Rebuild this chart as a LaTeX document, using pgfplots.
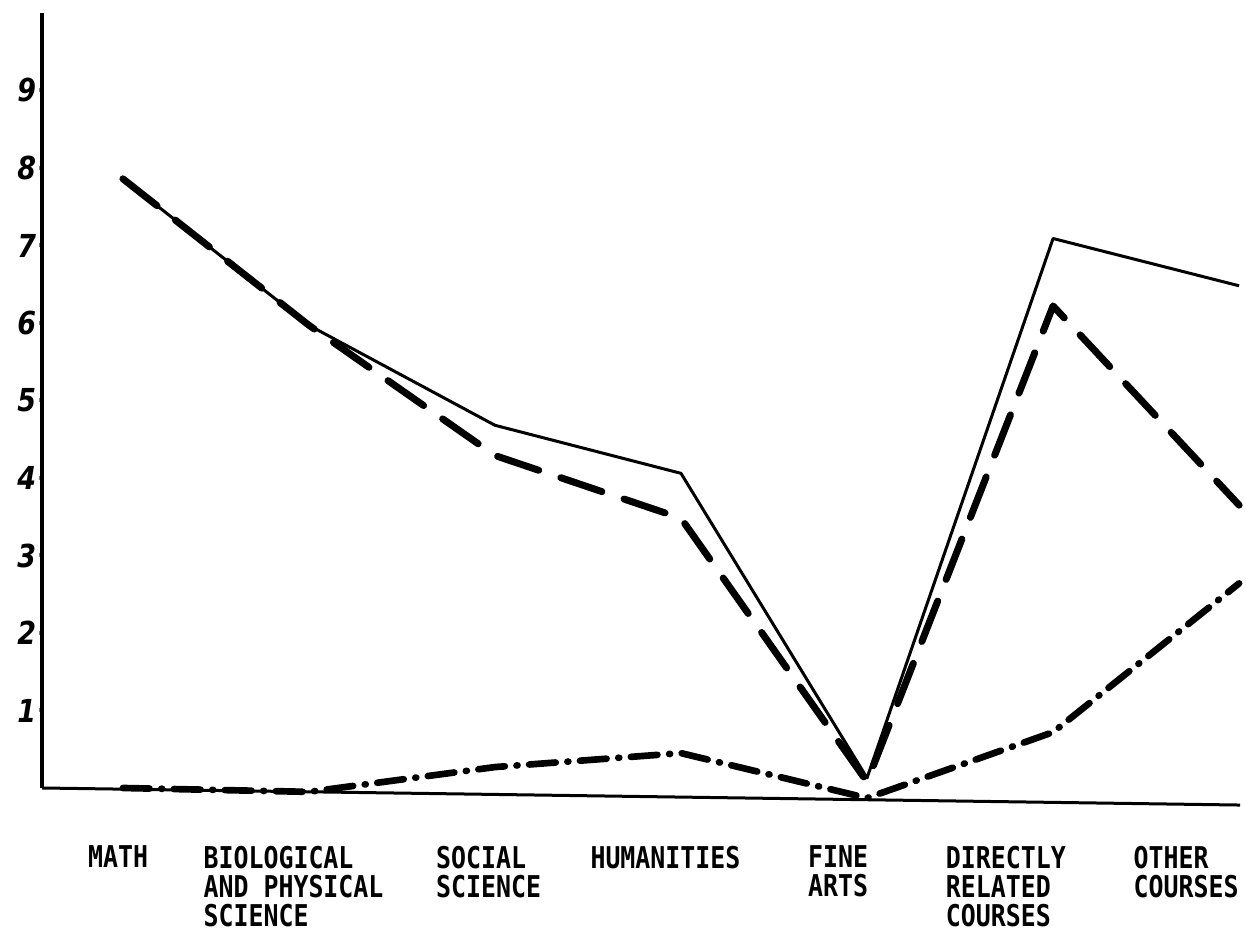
\documentclass[border=0pt]{standalone}
\usepackage{pgfplots}
\pgfplotsset{compat=1.18}
\usepackage{fontspec}
\newfontfamily\catfont[FakeStretch=0.83]{DejaVu Sans Mono}
\newfontfamily\numfont[FakeStretch=0.85]{DejaVu Sans}

% category values, 0 = MATH ... 6 = OTHER COURSES
\pgfplotstableread{
x  solid  dashed  dashdot
0  7.86   7.86    0.00
1  5.97   5.97   -0.05
2  4.68   4.29    0.27
3  4.06   3.48    0.45
4  0.13   0.08   -0.13
5  7.09   6.22    0.72
6  6.48   3.65    2.64
}\coursedata

\begin{document}
\begin{tikzpicture}
\useasboundingbox (-12.6pt,-46.2pt) rectangle (361.2pt,236.4pt);
\begin{axis}[
    scale only axis,
    width=359.4pt, height=232.5pt,
    xmin=-0.435, xmax=6.005,
    ymin=0, ymax=10,
    clip=false,
    axis y line=left,
    axis x line=none,
    axis line style={-, line width=1.2pt},
    ytick={1,...,9},
    yticklabels={1,2,3,4,5,6,7,8,9},
    yticklabel style={font=\numfont\bfseries\itshape\fontsize{9.5}{11}\selectfont, xshift=2.5pt},
    major tick length=1.5pt,
    tick align=center,
    tick style={line width=1.2pt},
]
\addplot[black, line width=0.9pt, line join=round] table[x=x, y=solid] {\coursedata};
\addplot[black, line width=2.1pt, line cap=round, line join=round,
    dash pattern=on 13pt off 7pt] table[x=x, y=dashed] {\coursedata};
\addplot[black, line width=2pt, line cap=round, line join=round,
    dash pattern=on 8pt off 3.5pt on 0.3pt off 3.5pt] table[x=x, y=dashdot] {\coursedata};
% slightly slanted base line, as drawn
\draw[line width=0.9pt] (axis cs:-0.435,0) -- (axis cs:6.005,-0.22);

\begin{scope}[every node/.style={anchor=north west, inner sep=0pt, align=left,
    font=\catfont\bfseries\fontsize{9}{8.7}\selectfont}]
\node at (axis cs:-0.19,-0.74) {MATH};
\node at (axis cs:0.43,-0.74) {BIOLOGICAL\\AND PHYSICAL\\SCIENCE};
\node at (axis cs:1.68,-0.74) {SOCIAL\\SCIENCE};
\node at (axis cs:2.51,-0.74) {HUMANITIES};
\node at (axis cs:3.68,-0.74) {FINE\\ARTS};
\node at (axis cs:4.42,-0.74) {DIRECTLY\\RELATED\\COURSES};
\node at (axis cs:5.43,-0.74) {OTHER\\COURSES};
\end{scope}
\end{axis}
\end{tikzpicture}
\end{document}
